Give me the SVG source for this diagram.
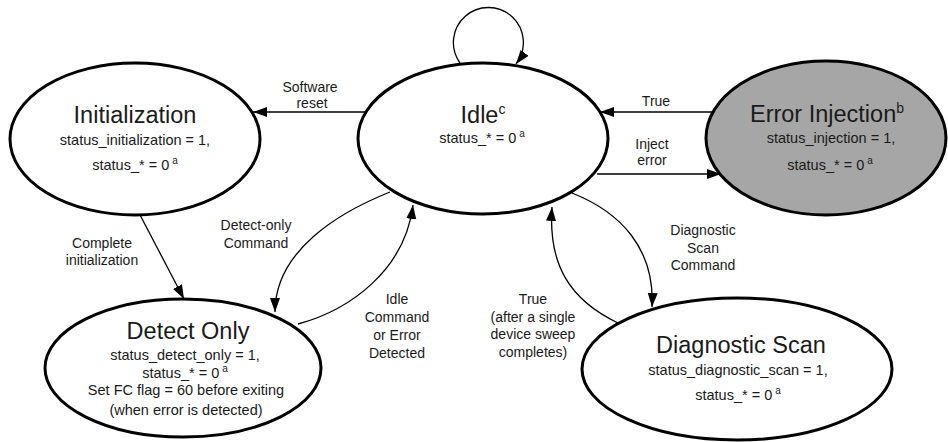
<svg xmlns="http://www.w3.org/2000/svg" width="948" height="442" viewBox="0 0 948 442">
<style>
  .state { fill: #ffffff; stroke: #000000; stroke-width: 3; }
  .state.gray { fill: #a6a6a6; }
  .title { font-family: "Liberation Sans", Arial, sans-serif; font-size: 23.5px; fill: #1a1a1a; text-anchor: middle; }
  .body { font-family: "Liberation Sans", Arial, sans-serif; font-size: 14.5px; fill: #1a1a1a; text-anchor: middle; }
  .lbl { font-family: "Liberation Sans", Arial, sans-serif; font-size: 14px; fill: #1a1a1a; text-anchor: middle; }
  .sup { font-size: 10px; }
  .supT { font-size: 14px; }
  .edge { fill: none; stroke: #000000; stroke-width: 1.3; marker-end: url(#arrow); }
</style>
<defs>
  <marker id="arrow" markerUnits="userSpaceOnUse" markerWidth="15" markerHeight="11" refX="14" refY="5" orient="auto">
    <path d="M0,0 L14,5 L0,10 Z" fill="#000000"/>
  </marker>
</defs>
<rect width="948" height="442" fill="#ffffff"/>

<g id="connectors">
  <path class="edge" d="M460,63 A35,35 0 1 1 516,64"/>
  <path class="edge" d="M366,112 L253,112"/>
  <path class="edge" d="M717,112 L600,112"/>
  <path class="edge" d="M597,174 L721,174"/>
  <path class="edge" d="M139,213 L184,299"/>
  <path class="edge" d="M390,192 C340,212 275,250 275,312"/>
  <path class="edge" d="M298,324 C350,310 405,270 413,205"/>
  <path class="edge" d="M572,193 C620,212 655,248 652,307"/>
  <path class="edge" d="M618,323 C570,300 548,265 552,207"/>
  <text class="lbl" x="310" y="92">Software</text>
  <text class="lbl" x="312" y="108">reset</text>
  <text class="lbl" x="656" y="106">True</text>
  <text class="lbl" x="652" y="149">Inject</text>
  <text class="lbl" x="652" y="165">error</text>
  <text class="lbl" x="102" y="248">Complete</text>
  <text class="lbl" x="102" y="265">initialization</text>
  <text class="lbl" x="256" y="230">Detect-only</text>
  <text class="lbl" x="256" y="248">Command</text>
  <text class="lbl" x="397" y="304">Idle</text>
  <text class="lbl" x="397" y="322">Command</text>
  <text class="lbl" x="397" y="340">or Error</text>
  <text class="lbl" x="397" y="358">Detected</text>
  <text class="lbl" x="703" y="235">Diagnostic</text>
  <text class="lbl" x="703" y="253">Scan</text>
  <text class="lbl" x="703" y="270">Command</text>
  <text class="lbl" x="533" y="304">True</text>
  <text class="lbl" x="533" y="322">(after a single</text>
  <text class="lbl" x="533" y="339">device sweep</text>
  <text class="lbl" x="533" y="357">completes)</text>
</g>

<g id="initialization">
  <ellipse class="state" cx="135" cy="139" rx="125" ry="76"/>
  <text class="title" x="135" y="123">Initialization</text>
  <text class="body" x="135" y="145">status_initialization = 1,</text>
  <text class="body" x="135" y="170">status_* = 0<tspan class="sup" dx="3" dy="-6">a</tspan></text>
</g>

<g id="idle">
  <ellipse class="state" cx="483" cy="138.5" rx="125" ry="75.5"/>
  <text class="title" x="483" y="123">Idle<tspan class="supT" dy="-9">c</tspan></text>
  <text class="body" x="482" y="143">status_* = 0<tspan class="sup" dx="3" dy="-6">a</tspan></text>
</g>

<g id="error-injection">
  <ellipse class="state gray" cx="826" cy="138" rx="120" ry="77"/>
  <text class="title" x="827" y="122">Error Injection<tspan class="supT" dy="-9">b</tspan></text>
  <text class="body" x="831" y="143">status_injection = 1,</text>
  <text class="body" x="830" y="170">status_* = 0<tspan class="sup" dx="3" dy="-6">a</tspan></text>
</g>

<g id="detect-only">
  <ellipse class="state" cx="183" cy="368" rx="138" ry="69"/>
  <text class="title" x="188" y="339">Detect Only</text>
  <text class="body" x="185" y="360">status_detect_only = 1,</text>
  <text class="body" x="185" y="378">status_* = 0<tspan class="sup" dx="3" dy="-6">a</tspan></text>
  <text class="body" x="186" y="395">Set FC flag = 60 before exiting</text>
  <text class="body" x="186" y="415">(when error is detected)</text>
</g>

<g id="diagnostic-scan">
  <ellipse class="state" cx="737" cy="369" rx="155" ry="71"/>
  <text class="title" x="741" y="353">Diagnostic Scan</text>
  <text class="body" x="738" y="375">status_diagnostic_scan = 1,</text>
  <text class="body" x="738" y="400">status_* = 0<tspan class="sup" dx="3" dy="-6">a</tspan></text>
</g>
</svg>
